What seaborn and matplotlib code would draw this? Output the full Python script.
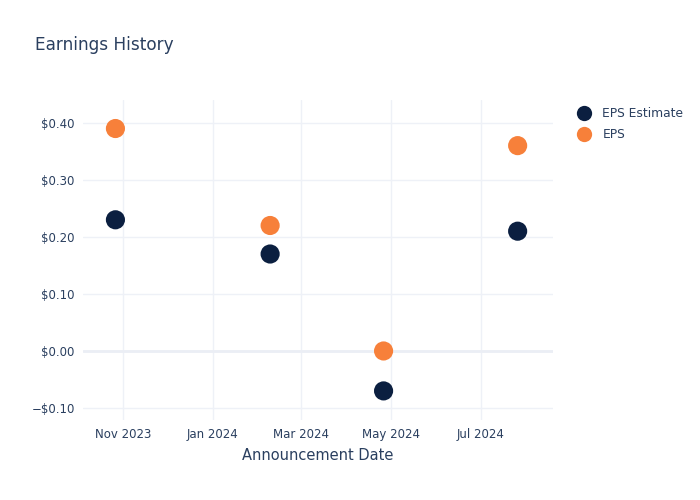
import matplotlib
matplotlib.use("Agg")
import matplotlib.pyplot as plt
import matplotlib.dates as mdates
from matplotlib.ticker import FuncFormatter
from matplotlib.lines import Line2D
import seaborn as sns
import pandas as pd

dates = ["2023-10-27", "2024-02-09", "2024-04-26", "2024-07-26"]
eps_estimate = [0.23, 0.17, -0.07, 0.21]
eps_actual = [0.39, 0.22, 0.00, 0.36]
series_names = ["EPS Estimate", "EPS"]
colors = ["#0b1f40", "#f7803a"]
text_color = "#2a3f5f"
grid_color = "#eef1f7"

df = pd.DataFrame({
    "date": pd.to_datetime(dates * 2),
    "value": eps_estimate + eps_actual,
    "series": [series_names[0]] * len(dates) + [series_names[1]] * len(dates),
})

sns.set_theme(style="white")
plt.rcParams["font.family"] = ["DejaVu Sans"]

fig = plt.figure(figsize=(7, 5), dpi=100)
ax = fig.add_axes([0.1186, 0.16, 0.6714, 0.64])

sns.scatterplot(data=df, x="date", y="value", hue="series", palette=colors,
                s=190, edgecolor="none", ax=ax, legend=False, zorder=3)

ax.set_xlim(pd.Timestamp("2023-10-05"), pd.Timestamp("2024-08-19"))
ax.set_ylim(-0.121, 0.44)
ax.set_yticks([-0.1, 0, 0.1, 0.2, 0.3, 0.4])
ax.yaxis.set_major_formatter(FuncFormatter(
    lambda v, p: ("\u2212$%.2f" % abs(v)) if v < -1e-9 else "$%.2f" % abs(v)))
ax.xaxis.set_major_locator(mdates.MonthLocator(bymonth=[1, 3, 5, 7, 11]))
ax.xaxis.set_major_formatter(mdates.DateFormatter("%b %Y"))

ax.grid(True, color=grid_color, linewidth=1, zorder=0)
ax.axhline(0, color="#ebeef5", linewidth=2, zorder=1)
for s in ax.spines.values():
    s.set_visible(False)
ax.tick_params(axis="both", length=0, labelsize=8.5, colors=text_color, pad=6)

ax.set_xlabel("Announcement Date", fontsize=10.5, color=text_color, labelpad=5)
ax.set_ylabel("")

fig.text(0.05, 0.911, "Earnings History", fontsize=12.2, color=text_color, va="center")

handles = [Line2D([0], [0], marker="o", linestyle="none", markersize=11,
                  markerfacecolor=c, markeredgecolor="none") for c in colors]
leg = fig.legend(handles, series_names, loc="upper left",
                 bbox_to_anchor=(0.808, 0.807), frameon=False, fontsize=8.8,
                 handletextpad=0.9, labelspacing=0.6, handlelength=1.2)
for t in leg.get_texts():
    t.set_color(text_color)

fig.savefig("out.png", dpi=100)
